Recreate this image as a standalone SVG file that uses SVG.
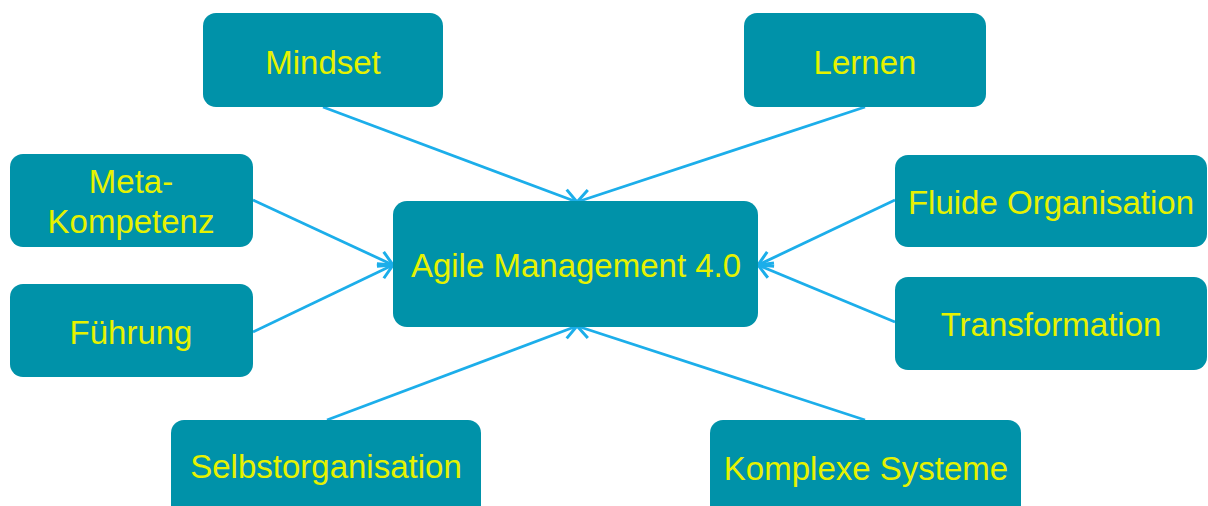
<svg xmlns="http://www.w3.org/2000/svg" width="1208" height="506" viewBox="0 0 1208 506">
  <style>
    .box { fill: #0092A9; }
    .lbl { fill: #E6F200; font-family: "Liberation Sans", Arial, sans-serif; font-size: 33px; text-anchor: middle; }
    .link { stroke: #1CAEEA; stroke-width: 2.8; fill: none; marker-end: url(#arrow); }
  </style>
  <defs>
    <marker id="arrow" markerUnits="userSpaceOnUse" markerWidth="22" markerHeight="22" refX="17" refY="11" orient="auto" viewBox="0 0 22 22">
      <path d="M3,3 L17,11 L3,19" fill="none" stroke="#1CAEEA" stroke-width="3" stroke-linejoin="miter"/>
    </marker>
  </defs>

  <!-- connectors: every outer topic points to the centre -->
  <g id="connectors">
    <line class="link" x1="323" y1="107" x2="577" y2="202"/>
    <line class="link" x1="865" y1="107" x2="577" y2="202"/>
    <line class="link" x1="253" y1="200" x2="393" y2="265"/>
    <line class="link" x1="253" y1="332" x2="393" y2="265"/>
    <line class="link" x1="895" y1="200" x2="758" y2="265"/>
    <line class="link" x1="895" y1="322" x2="758" y2="265"/>
    <line class="link" x1="327" y1="420" x2="577" y2="326"/>
    <line class="link" x1="865" y1="420" x2="577" y2="326"/>
  </g>

  <g id="center">
    <rect class="box" x="393" y="201" width="365" height="126" rx="14"/>
    <text class="lbl" x="576" y="277">Agile Management 4.0</text>
  </g>

  <g id="mindset">
    <rect class="box" x="203" y="13" width="240" height="94" rx="13"/>
    <text class="lbl" x="323" y="74">Mindset</text>
  </g>

  <g id="lernen">
    <rect class="box" x="744" y="13" width="242" height="94" rx="13"/>
    <text class="lbl" x="865" y="74">Lernen</text>
  </g>

  <g id="meta-kompetenz">
    <rect class="box" x="10" y="154" width="243" height="93" rx="13"/>
    <text class="lbl" x="131" y="193">Meta-</text>
    <text class="lbl" x="131" y="233">Kompetenz</text>
  </g>

  <g id="fuehrung">
    <rect class="box" x="10" y="284" width="243" height="93" rx="13"/>
    <text class="lbl" x="131" y="344">Führung</text>
  </g>

  <g id="fluide-organisation">
    <rect class="box" x="895" y="155" width="312" height="92" rx="13"/>
    <text class="lbl" x="1051" y="214">Fluide Organisation</text>
  </g>

  <g id="transformation">
    <rect class="box" x="895" y="277" width="312" height="93" rx="13"/>
    <text class="lbl" x="1051" y="336">Transformation</text>
  </g>

  <g id="selbstorganisation">
    <rect class="box" x="171" y="420" width="310" height="100" rx="13"/>
    <text class="lbl" x="326" y="478">Selbstorganisation</text>
  </g>

  <g id="komplexe-systeme">
    <rect class="box" x="710" y="420" width="311" height="100" rx="13"/>
    <text class="lbl" x="866" y="480">Komplexe Systeme</text>
  </g>
</svg>
